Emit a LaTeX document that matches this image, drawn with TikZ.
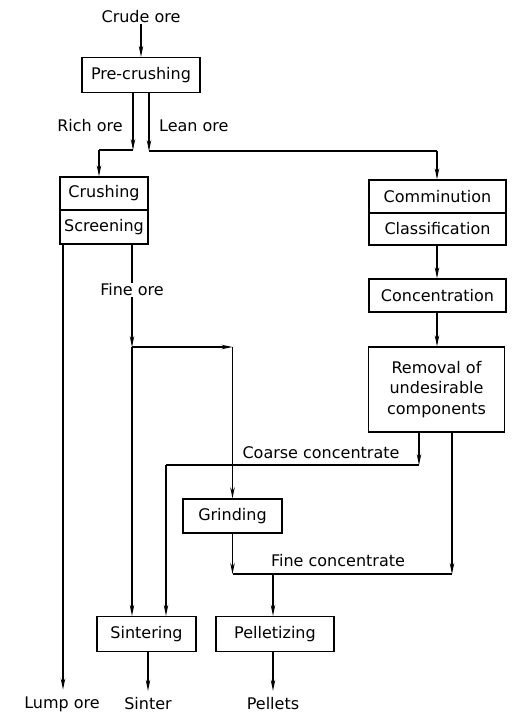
\documentclass[tikz,border=0pt]{standalone}
\usepackage{fontspec}
\setmainfont{DejaVu Sans}
\usetikzlibrary{arrows.meta}
\begin{document}
\begin{tikzpicture}[x=1pt,y=-1pt,
  box/.style={draw,line width=1.4pt,inner sep=0pt,align=center,font=\fontsize{16}{20.5}\selectfont},
  lab/.style={inner sep=1pt,font=\fontsize{16}{19}\selectfont},
  outlab/.style={lab,outer sep=6pt},
  ln/.style={line width=1.1pt},
  arr/.style={ln,-{Stealth[length=11pt,width=4.5pt]}}]
\useasboundingbox (0,0) rectangle (514,713);
% nodes
\node[lab] (crude) at (141,17) {Crude ore};
\node[box,minimum width=118pt,minimum height=35pt] (pre) at (141,75) {Pre-crushing};
\node[lab,anchor=east] (rich) at (124,126) {Rich ore};
\node[lab,anchor=west] (lean) at (158,126) {Lean ore};
\node[box,minimum width=88pt,minimum height=33pt] (crush) at (104,193.5) {Crushing};
\node[box,minimum width=88pt,minimum height=34pt] (screen) at (104,227) {Screening};
\node[box,minimum width=137pt,minimum height=33pt] (commin) at (437.5,196.5) {Comminution};
\node[box,minimum width=137pt,minimum height=32pt] (classif) at (437.5,229) {Classification};
\node[box,minimum width=137pt,minimum height=33pt] (conc) at (437.5,295.5) {Concentration};
\node[box,minimum width=136pt,minimum height=85pt] (rem) at (436.5,389.5) {Removal of\\undesirable\\components};
\node[box,minimum width=99pt,minimum height=34pt] (grind) at (232.5,516) {Grinding};
\node[box,minimum width=99pt,minimum height=35pt] (sint) at (146.5,634) {Sintering};
\node[box,minimum width=118pt,minimum height=35pt] (pell) at (275,634) {Pelletizing};
\node[outlab] (lumplab) at (62,704) {Lump ore};
\node[outlab] (sintlab) at (148,704) {Sinter};
\node[outlab] (pelllab) at (273,704) {Pellets};
\node[lab] (coarse) at (321,453) {Coarse concentrate};
\node[lab] (fine) at (338,561) {Fine concentrate};
% coordinates
\coordinate (r1) at (133,150);
\coordinate (r2) at (99,150);
\coordinate (l1) at (149,151);
\coordinate (l2) at (437,151);
\coordinate (c1) at (419,465);
\coordinate (c2) at (166,465);
\coordinate (f0) at (232.5,574);
\coordinate (f1) at (452,574);
\coordinate (p1) at (273,574);
\coordinate (fo) at (132,347);
\coordinate (g0) at (232.5,347);
\coordinate (lx) at (63,0);
% connectors
\draw[arr] (crude) -- (pre);
\draw[arr] (pre.south -| r1) -- (r1);
\draw[ln] (r1) -- (r2);
\draw[arr] (r2) -- (r2 |- crush.north);
\draw[arr] (pre.south -| l1) -- (l1);
\draw[ln] (l1) -- (l2);
\draw[arr] (l2) -- (l2 |- commin.north);
\draw[arr] (classif.south -| l2) -- (conc.north -| l2);
\draw[arr] (conc.south -| l2) -- (rem.north -| l2);
\draw[arr] (rem.south -| c1) -- (c1);
\draw[ln] (c1) -- (c2);
\draw[arr] (c2) -- (c2 |- sint.north);
\draw[arr] (rem.south -| f1) -- (f1);
\draw[arr] (grind.south) -- (f0);
\draw[ln] (f0) -- (f1);
\draw[arr] (p1) -- (p1 |- pell.north);
\draw[arr] (screen.south -| fo) -- (fo);
\draw[arr] (fo) -- (fo |- sint.north);
\draw[arr] (fo) -- (g0);
\draw[arr] (g0) -- (grind.north);
\draw[arr] (screen.south -| lx) -- (lx |- lumplab.north);
\draw[arr] (sint.south -| sintlab) -- (sintlab.north);
\draw[arr] (pell.south -| pelllab) -- (pelllab.north);
\node[lab,fill=white] (fineore) at (132,290) {Fine ore};
\end{tikzpicture}
\end{document}
